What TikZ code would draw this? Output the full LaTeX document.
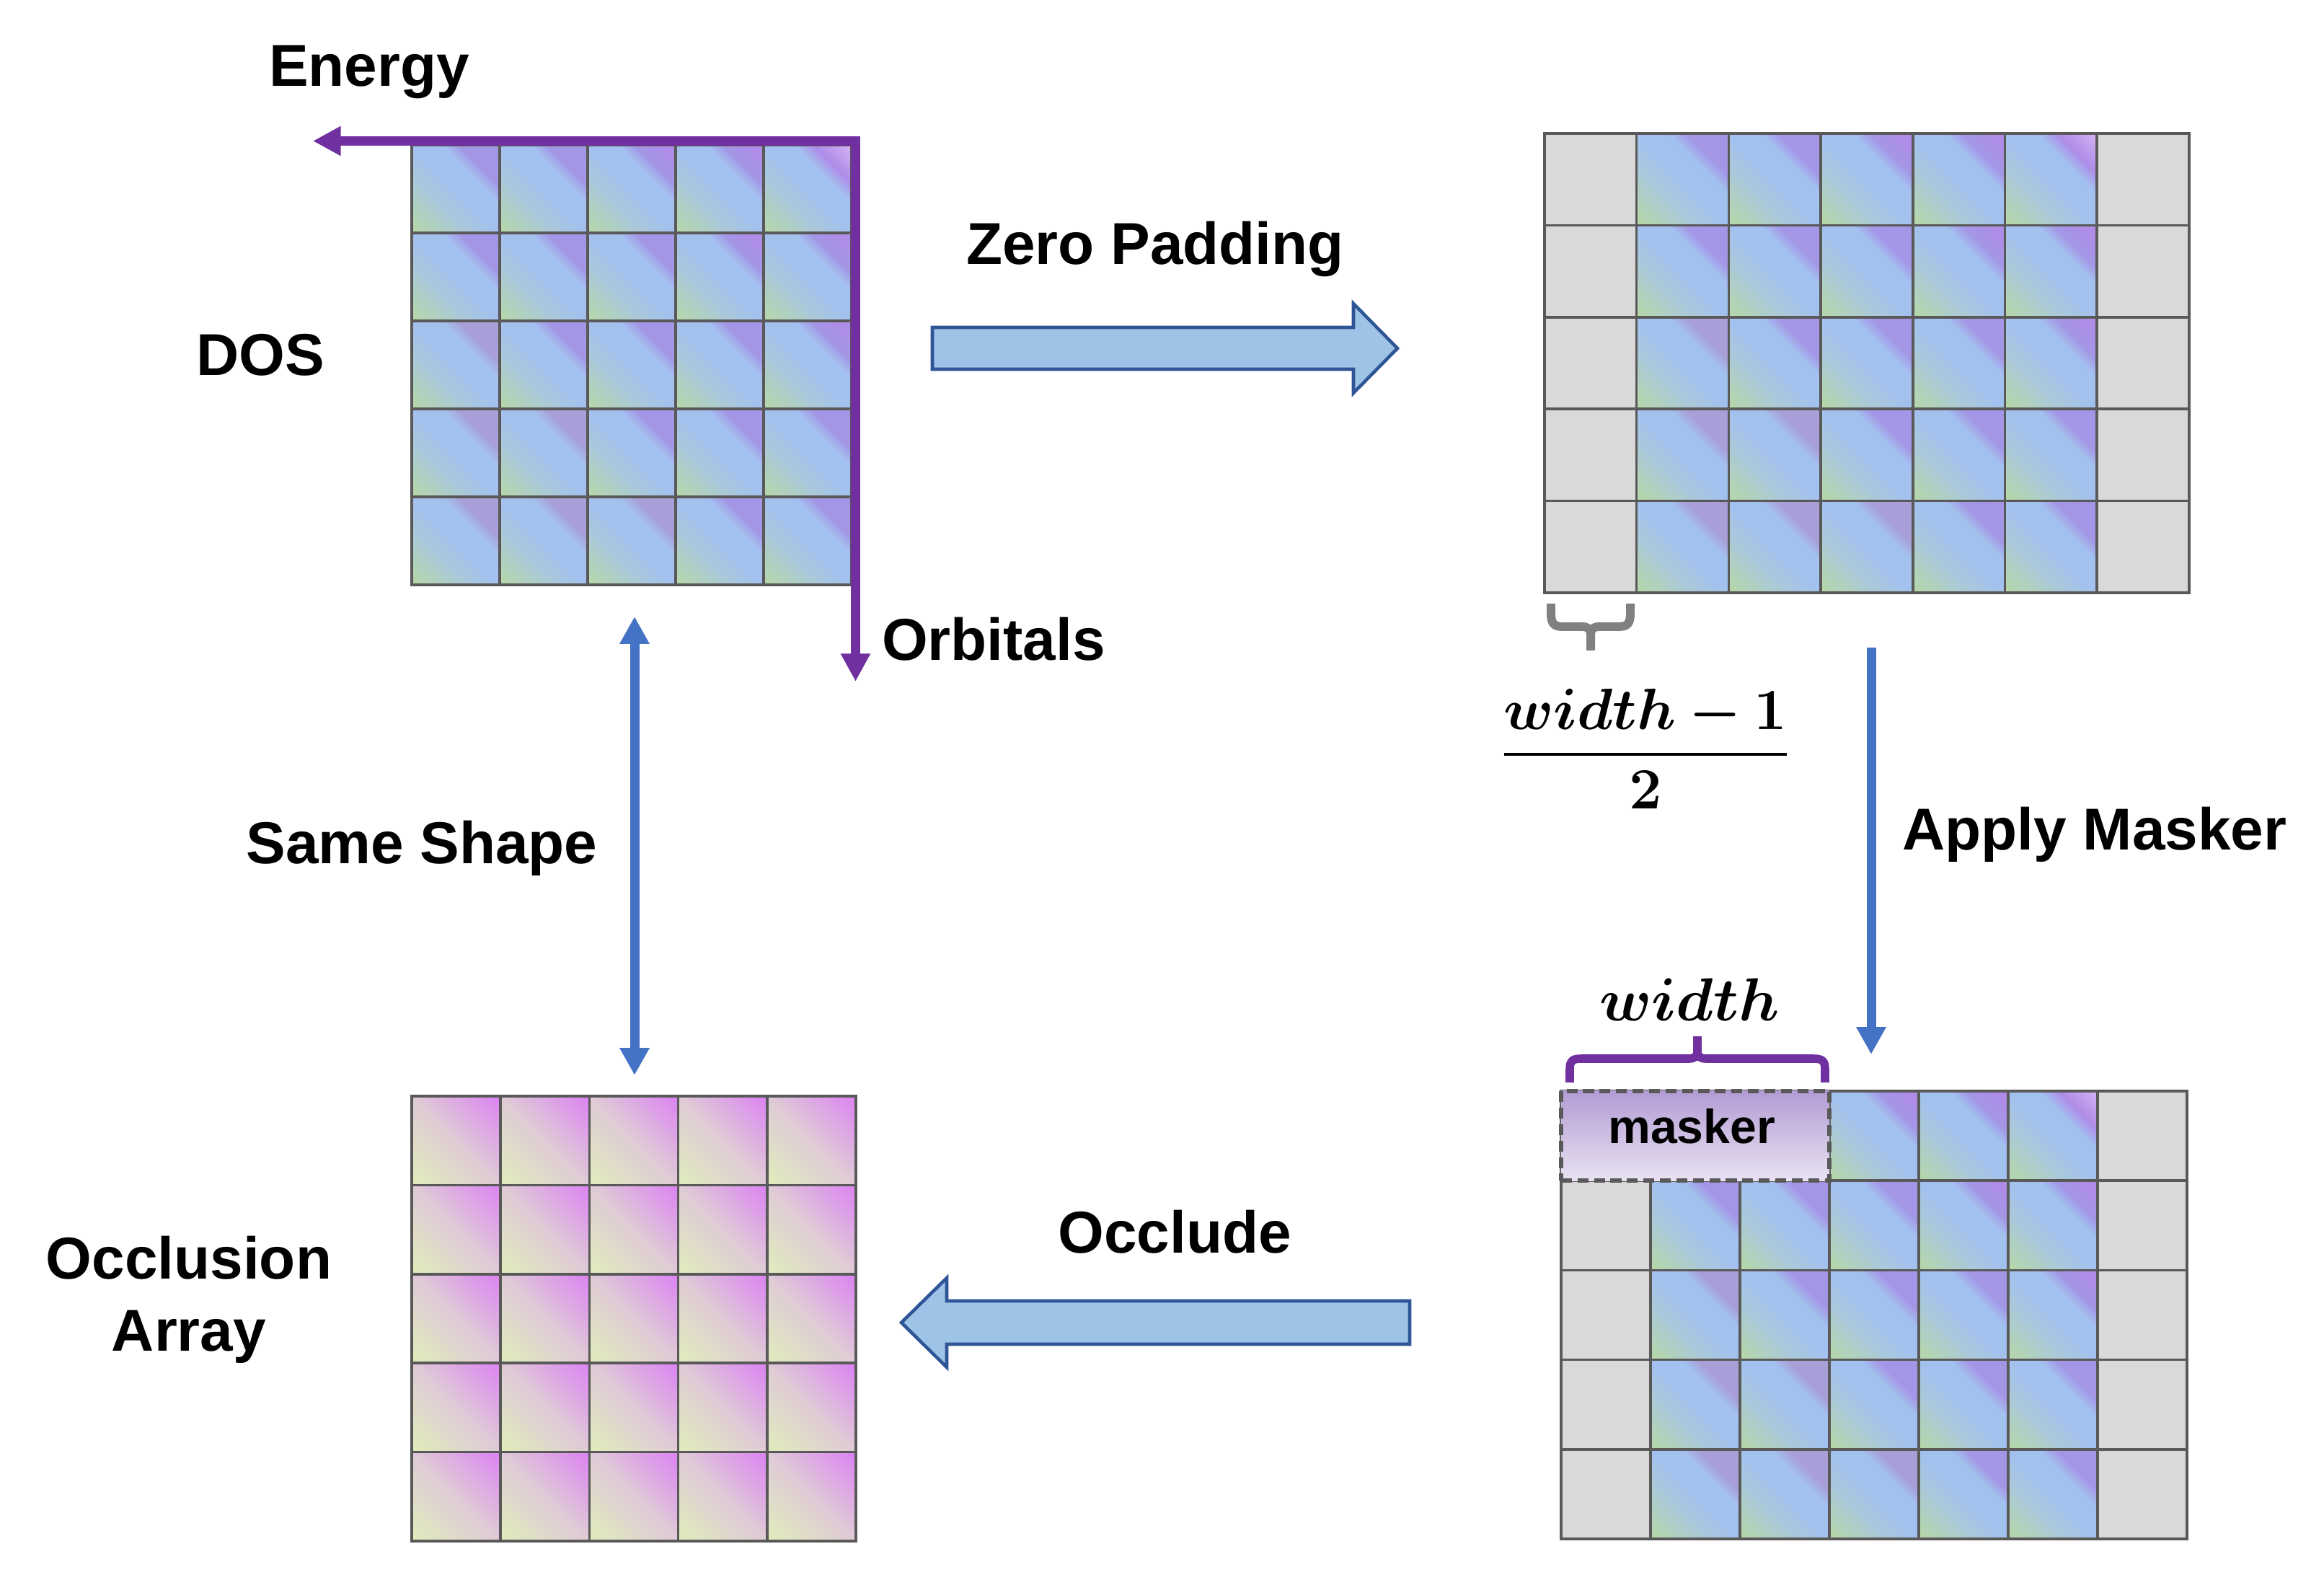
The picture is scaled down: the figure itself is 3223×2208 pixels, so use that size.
\RequirePackage{fix-cm}
\documentclass[tikz,border=0pt]{standalone}
\usepackage{amsmath,bm}
\usepackage[no-math]{fontspec}
\setmainfont{Liberation Sans}
\usetikzlibrary{arrows.meta}

\definecolor{cellline}{HTML}{595959}
\definecolor{padgray}{HTML}{D9D9D9}
\definecolor{dgreen}{HTML}{B6D8A6}
\definecolor{dteal}{HTML}{ABC9D8}
\definecolor{dblue}{HTML}{A3C1EF}
\definecolor{dpurA}{HTML}{A89ED8}
\definecolor{dpurB}{HTML}{A496E6}
\definecolor{dpurC}{HTML}{AE8CE8}
\definecolor{dpurD}{HTML}{D6B6F4}
\definecolor{oyel}{HTML}{E0ECBC}
\definecolor{omid}{HTML}{DFCBD6}
\definecolor{omag}{HTML}{DC84F2}
\definecolor{axpurple}{HTML}{7030A0}
\definecolor{lineblue}{HTML}{4472C4}
\definecolor{blockfill}{HTML}{9DC3E6}
\definecolor{blockdraw}{HTML}{2F5597}
\definecolor{maskTop}{HTML}{B39CD4}
\definecolor{maskBot}{HTML}{E9E2F2}
\definecolor{bracegray}{HTML}{808080}

\pgfdeclarehorizontalshading{dos0}{100bp}{color(0bp)=(dgreen); color(15bp)=(dgreen); color(36bp)=(dteal); color(50bp)=(dblue); color(62bp)=(dblue); color(69bp)=(dpurA); color(100bp)=(dpurA)}
\pgfdeclarehorizontalshading{dos1}{100bp}{color(0bp)=(dgreen); color(15bp)=(dgreen); color(36bp)=(dteal); color(50bp)=(dblue); color(62bp)=(dblue); color(69bp)=(dpurB); color(100bp)=(dpurB)}
\pgfdeclarehorizontalshading{dos2}{100bp}{color(0bp)=(dgreen); color(15bp)=(dgreen); color(36bp)=(dteal); color(50bp)=(dblue); color(62bp)=(dblue); color(69bp)=(dpurB); color(80bp)=(dpurC); color(100bp)=(dpurC)}
\pgfdeclarehorizontalshading{dos3}{100bp}{color(0bp)=(dgreen); color(15bp)=(dgreen); color(36bp)=(dteal); color(50bp)=(dblue); color(62bp)=(dblue); color(70bp)=(dpurC); color(86bp)=(dpurD); color(100bp)=(dpurD)}
\pgfdeclarehorizontalshading{occ}{100bp}{color(0bp)=(oyel); color(16bp)=(oyel); color(50bp)=(omid); color(84bp)=(omag); color(100bp)=(omag)}

\begin{document}
\begin{tikzpicture}[x=0.01cm,y=-0.01cm,
  cellbox/.style={draw=cellline, line width=1pt},
  padcell/.style={cellbox, fill=padgray},
  lbl/.style={font=\fontsize{23.3}{28}\selectfont\bfseries, anchor=base, inner sep=0pt},
  blockarrow/.style={fill=blockfill, draw=blockdraw, line width=1.3pt, line join=miter},
  axisline/.style={draw=axpurple, line width=3.6pt, line join=miter},
  bluelink/.style={draw=lineblue, line width=3.7pt},
  maskerbox/.style={draw=cellline, line width=1.8pt, dash pattern=on 4.3pt off 2.2pt,
    top color=maskTop, bottom color=maskBot, minimum width=3.72cm, minimum height=1.24cm, inner sep=0pt},
  ]
\fill[white] (0,0) rectangle (3223,2208);
\useasboundingbox (0,0) rectangle (3223,2208);

% ---------- DOS grid (top left) ----------
\foreach \r in {0,...,4}{
  \foreach \c in {0,...,4}{
    \pgfmathtruncatemacro{\lvl}{ifthenelse(\c-\r<-1,0,ifthenelse(\c-\r<2,1,ifthenelse(\c-\r<4,2,3)))}
    \path[cellbox, shade, shading=dos\lvl, shading angle=45] ({571+122*\c},{201+122*\r}) rectangle ++(122,122);
  }
}

% ---------- Padded grid (top right) ----------
\foreach \r in {0,...,4}{
  \foreach \c in {0,...,6}{
    \pgfmathtruncatemacro{\isgray}{ifthenelse(\c==6,1,ifthenelse(\c==0,1,0))}
    \ifnum\isgray=1
      \path[padcell] ({2142+127.7*\c},{185+127.4*\r}) rectangle ++(127.7,127.4);
    \else
      \pgfmathtruncatemacro{\lvl}{ifthenelse(\c-1-\r<-1,0,ifthenelse(\c-1-\r<2,1,ifthenelse(\c-1-\r<4,2,3)))}
      \path[cellbox, shade, shading=dos\lvl, shading angle=45] ({2142+127.7*\c},{185+127.4*\r}) rectangle ++(127.7,127.4);
    \fi
  }
}

% ---------- Masked grid (bottom right) ----------
\foreach \r in {0,...,4}{
  \foreach \c in {0,...,6}{
    \pgfmathtruncatemacro{\isgray}{ifthenelse(\c==6,1,ifthenelse(\c==0,1,0))}
    \ifnum\isgray=1
      \path[padcell] ({2165+124*\c},{1513+124.2*\r}) rectangle ++(124,124.2);
    \else
      \pgfmathtruncatemacro{\lvl}{ifthenelse(\c-1-\r<-1,0,ifthenelse(\c-1-\r<2,1,ifthenelse(\c-1-\r<4,2,3)))}
      \path[cellbox, shade, shading=dos\lvl, shading angle=45] ({2165+124*\c},{1513+124.2*\r}) rectangle ++(124,124.2);
    \fi
  }
}
\node[maskerbox] (masker) at (2351,1575) {};
\node[font=\fontsize{18.8}{22}\selectfont\bfseries, anchor=base, inner sep=0pt] (maskertxt) at (2346,1585) {masker};

% ---------- Occlusion grid (bottom left) ----------
\foreach \r in {0,...,4}{
  \foreach \c in {0,...,4}{
    \path[cellbox, shade, shading=occ, shading angle=45] ({571+123.2*\c},{1520+123.4*\r}) rectangle ++(123.2,123.4);
  }
}

% ---------- Axes of DOS ----------
\coordinate (corner) at (1186.5,195.5);
\coordinate (energytip) at (434,195.5);
\coordinate (orbtip) at (1186.5,945);
\draw[axisline, {Triangle[length=11pt,width=11pt]}-{Triangle[length=11pt,width=11pt]}] (energytip) -- (corner) -- (orbtip);

% ---------- Labels ----------
\node[lbl] (energy) at (512,119) {Energy};
\node[lbl] (dos) at (361,520) {DOS};
\node[lbl] (orbitals) at (1378,915) {Orbitals};
\node[lbl] (zp) at (1602,366) {Zero Padding};
\node[lbl] (same) at (585,1197) {Same Shape};
\node[lbl] (apply) at (2905,1178) {Apply Masker};
\node[lbl] (occlude) at (1629,1737) {Occlude};
\node[lbl] (occ1) at (262,1773) {Occlusion};
\node[lbl] (occ2) at (262,1873) {Array};

% ---------- Block arrows ----------
\draw[blockarrow] (1293,454) -- (1877,454) -- (1877,421) -- (1938,483) -- (1877,545) -- (1877,512) -- (1293,512) -- cycle;
\draw[blockarrow] (1955,1804) -- (1313,1804) -- (1313,1772) -- (1250,1834) -- (1313,1896) -- (1313,1864) -- (1955,1864) -- cycle;

% ---------- Blue thin arrows ----------
\coordinate (sstop) at (880,855);
\coordinate (ssbot) at (880,1491);
\draw[bluelink, {Triangle[length=10.8pt,width=11.1pt]}-{Triangle[length=10.8pt,width=11.1pt]}] (sstop) -- (ssbot);
\coordinate (amtop) at (2595,898);
\coordinate (amtip) at (2595,1462);
\draw[bluelink, -{Triangle[length=10.8pt,width=11.1pt]}] (amtop) -- (amtip);

% ---------- Gray brace under first padded cell ----------
\draw[draw=bracegray, line width=3.4pt]
  (2151,837) -- (2151,850) .. controls (2151,865) and (2155,869) .. (2168,869) -- (2194,869)
  .. controls (2202,869) and (2206,872) .. (2206,880) -- (2206,902);
\draw[draw=bracegray, line width=3.4pt]
  (2261,837) -- (2261,850) .. controls (2261,865) and (2257,869) .. (2244,869) -- (2218,869)
  .. controls (2210,869) and (2206,872) .. (2206,880);
\node[anchor=base, inner sep=0pt] (frac) at (2282,1066)
  {\fontsize{23}{28}\selectfont$\displaystyle\frac{\bm{width-1}}{\bm{2}}$};

% ---------- Purple brace above masker ----------
\draw[draw=axpurple, line width=3.3pt]
  (2177,1501) -- (2177,1483) .. controls (2177,1471) and (2181,1468) .. (2193,1468) -- (2342,1468)
  .. controls (2350,1468) and (2354,1465) .. (2354,1458) -- (2354,1437);
\draw[draw=axpurple, line width=3.3pt]
  (2531,1501) -- (2531,1483) .. controls (2531,1471) and (2527,1468) .. (2515,1468) -- (2366,1468)
  .. controls (2358,1468) and (2354,1465) .. (2354,1458);
\node[anchor=base, inner sep=0pt] (widthlbl) at (2343,1415)
  {\fontsize{24}{30}\selectfont$\bm{width}$};
\end{tikzpicture}
\end{document}
